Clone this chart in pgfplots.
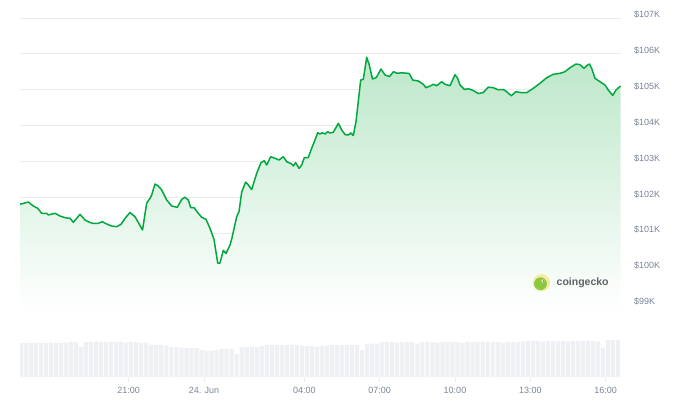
\documentclass[border=0pt]{standalone}
\usepackage{pgfplots}
\usepackage{pgfplotstable}
\pgfplotsset{compat=1.18}
\usepackage{fontspec}
\setmainfont{Liberation Sans}
\definecolor{cgGreen}{RGB}{0,168,62}
\definecolor{fillTop}{RGB}{188,231,201}
\definecolor{gridc}{RGB}{236,236,236}
\definecolor{lblc}{RGB}{122,132,152}
\definecolor{volc}{RGB}{238,240,243}
\definecolor{logoY}{RGB}{246,236,160}
\definecolor{logoG}{RGB}{141,198,63}
\definecolor{logoT}{RGB}{95,99,104}

\pgfplotstableread{
t p
-7.331 101.805
-7.000 101.869
-6.801 101.758
-6.625 101.694
-6.466 101.554
-6.267 101.554
-6.203 101.507
-5.936 101.554
-5.737 101.479
-5.538 101.432
-5.339 101.415
-5.207 101.304
-5.072 101.415
-4.940 101.526
-4.741 101.368
-4.610 101.320
-4.450 101.276
-4.211 101.276
-4.052 101.320
-3.876 101.256
-3.677 101.201
-3.478 101.181
-3.307 101.248
-3.147 101.415
-2.948 101.577
-2.749 101.460
-2.450 101.089
-2.283 101.841
-2.151 101.972
-2.084 102.064
-1.952 102.370
-1.821 102.315
-1.685 102.203
-1.486 101.925
-1.287 101.758
-1.064 101.721
-0.888 101.944
-0.757 102.000
-0.625 101.925
-0.530 101.710
-0.398 101.710
-0.227 101.554
-0.092 101.443
0.080 101.387
0.239 101.136
0.398 100.830
0.546 100.170
0.637 100.170
0.769 100.524
0.876 100.435
1.036 100.671
1.104 100.838
1.303 101.460
1.394 101.599
1.502 102.148
1.661 102.426
1.765 102.343
1.900 102.217
2.100 102.669
2.271 102.964
2.402 103.019
2.498 102.900
2.657 103.131
2.829 103.086
2.988 103.039
3.159 103.131
3.295 102.992
3.494 102.928
3.558 102.872
3.653 102.964
3.785 102.808
3.892 102.900
3.996 103.103
4.155 103.103
4.263 103.318
4.394 103.549
4.530 103.799
4.622 103.763
4.713 103.799
4.821 103.763
4.928 103.827
5.020 103.791
5.151 103.811
5.351 104.061
5.486 103.875
5.618 103.749
5.749 103.735
5.845 103.791
5.948 103.721
6.056 104.106
6.243 105.267
6.347 105.287
6.482 105.900
6.586 105.685
6.713 105.295
6.865 105.337
7.052 105.574
7.211 105.407
7.390 105.365
7.550 105.499
7.689 105.454
7.876 105.468
8.076 105.457
8.175 105.448
8.315 105.267
8.538 105.240
8.737 105.148
8.845 105.053
9.004 105.100
9.135 105.148
9.271 105.109
9.470 105.220
9.602 105.148
9.801 105.109
10.000 105.415
10.100 105.323
10.199 105.128
10.378 105.003
10.530 105.025
10.729 104.975
10.928 104.891
11.127 104.919
11.327 105.067
11.526 105.053
11.701 104.997
11.924 105.003
12.060 104.942
12.243 104.827
12.422 104.942
12.657 104.914
12.857 104.914
13.120 105.036
13.386 105.175
13.653 105.331
13.916 105.426
14.183 105.454
14.382 105.499
14.582 105.610
14.821 105.713
14.980 105.694
15.139 105.593
15.259 105.671
15.359 105.713
15.446 105.593
15.578 105.315
15.777 105.220
15.976 105.128
16.108 104.989
16.283 104.836
16.414 104.989
16.594 105.100
}\price

\pgfplotstableread{
t v
-7.3 34
-7.1 34.5
-6.9 34
-6.7 34.5
-6.5 34.5
-6.3 34
-6.1 34.5
-5.9 34.5
-5.7 34
-5.5 34.5
-5.3 35
-5.1 35
-4.9 30
-4.7 35
-4.5 35
-4.3 35.5
-4.1 35
-3.9 35
-3.7 35.5
-3.5 35
-3.3 35
-3.1 34.5
-2.9 35
-2.7 35
-2.5 34
-2.3 34.5
-2.1 32.5
-1.9 32
-1.7 32
-1.5 31.5
-1.3 30
-1.1 30
-0.9 29.5
-0.7 29.5
-0.5 29
-0.3 29
-0.1 27
0.1 26.5
0.3 26.5
0.5 27
0.7 28
0.9 28
1.1 28.5
1.3 23
1.5 30
1.7 30
1.9 30.5
2.1 30
2.3 31
2.5 32
2.7 32
2.9 32.5
3.1 32
3.3 32
3.5 32.5
3.7 32
3.9 31.5
4.1 31
4.3 31
4.5 30.5
4.7 31
4.9 31.5
5.1 32
5.3 32
5.5 32
5.7 32.5
5.9 32
6.1 32
6.3 27
6.5 33
6.7 33.5
6.9 33.5
7.1 35
7.3 35
7.5 35
7.7 34.5
7.9 35
8.1 35
8.3 35
8.5 33.5
8.7 35
8.9 35
9.1 35
9.3 34.5
9.5 35
9.7 35
9.9 35
10.1 35
10.3 34
10.5 35
10.7 35
10.9 35
11.1 35
11.3 35.5
11.5 35
11.7 35
11.9 34.5
12.1 35
12.3 35
12.5 35
12.7 35.5
12.9 36
13.1 36
13.3 36
13.5 35.5
13.7 36
13.9 36
14.1 36
14.3 36
14.5 35.5
14.7 36
14.9 36
15.1 36
15.3 36
15.5 36
15.7 35.5
15.9 29
16.1 37
16.3 37
16.5 37.5
}\vol

\begin{document}
\begin{tikzpicture}
\path[use as bounding box] (0,0) rectangle (688pt,408pt);

% volume axis
\begin{axis}[
  at={(20pt,31pt)}, anchor=south west, scale only axis,
  width=601pt, height=40pt,
  xmin=-7.331, xmax=16.614, ymin=0, ymax=40,
  axis line style={draw=none},
  ytick=\empty,
  xtick={-3,0,4,7,10,13,16},
  xticklabels={21:00,24. Jun,04:00,07:00,10:00,13:00,16:00},
  xtick pos=left, tick align=outside,
  major tick length=5pt,
  xtick style={draw=gridc, line width=0.6pt},
  xticklabel style={font=\fontsize{9}{10}\selectfont, text=lblc, anchor=base, yshift=-11pt},
]
\addplot[ybar, bar width=4.2pt, fill=volc, draw=none] table[x=t,y=v] {\vol};
\end{axis}

% price axis
\begin{axis}[
  at={(20pt,95.82pt)}, anchor=south west, scale only axis,
  width=601pt, height=305.15pt,
  xmin=-7.331, xmax=16.614, ymin=98.8, ymax=107.3,
  axis line style={draw=none},
  xtick=\empty,
  ytick={99,100,...,107},
  yticklabels={\$99K,\$100K,\$101K,\$102K,\$103K,\$104K,\$105K,\$106K,\$107K},
  yticklabel pos=right,
  ytick style={draw=none},
  ymajorgrids, grid style={gridc, line width=0.6pt},
  yticklabel style={font=\fontsize{9}{10}\selectfont, text=lblc, anchor=west, inner sep=0pt, xshift=13pt, yshift=3.3pt},
]
\addplot[draw=none, top color=fillTop, bottom color=white, forget plot] table[x=t,y=p] {\price} \closedcycle;
\addplot[cgGreen, line width=1.5pt, line join=round] table[x=t,y=p] {\price};
\end{axis}

% logo
\fill[logoY] (541.5pt,125.3pt) circle (8.6pt);
\fill[logoG] (540.5pt,124.3pt) circle (6.4pt);
\fill[white] (543pt,127pt) circle (1.7pt);
\fill[black!70] (543.3pt,127pt) circle (0.8pt);
\node[anchor=west, inner sep=0pt, text=logoT, font=\bfseries\fontsize{10.5}{12}\selectfont] at (556.5pt,125.3pt) {coingecko};
\end{tikzpicture}
\end{document}
